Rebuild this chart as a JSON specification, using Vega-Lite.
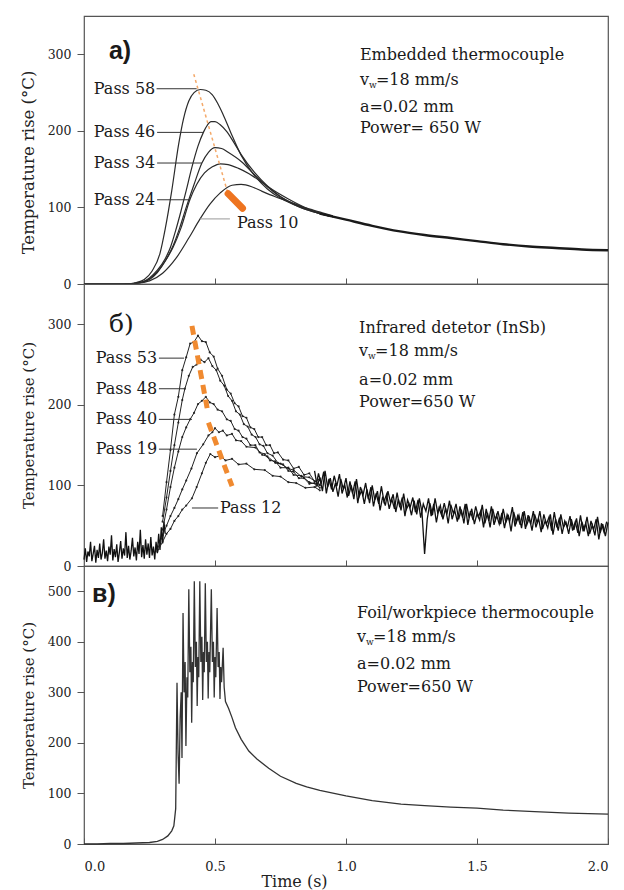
{
"$schema":"https://vega.github.io/schema/vega-lite/v6.json",
"padding":{"left":19,"top":15,"right":16,"bottom":0},
"background":"white",
"spacing":0,
"bounds":"flush",
"config":{"font":"DejaVu Serif","view":{"stroke":"#555","strokeWidth":1.2},
 "axis":{"labelFont":"DejaVu Serif","titleFont":"DejaVu Serif","labelFontSize":12.5,"titleFontSize":16.5,"titleFontWeight":"normal","labelColor":"#222","titleColor":"#222","tickColor":"#555","grid":false,"domain":false},
 "text":{"font":"DejaVu Serif","color":"#1a1a1a"}},
"datasets":{
"a_curves":[
{"pass":"58","t":0,"T":0},{"pass":"58","t":0.15,"T":0},{"pass":"58","t":0.2,"T":2},{"pass":"58","t":0.23,"T":6},{"pass":"58","t":0.26,"T":17},{"pass":"58","t":0.29,"T":40},{"pass":"58","t":0.31,"T":72},{"pass":"58","t":0.335,"T":122},{"pass":"58","t":0.361,"T":182},{"pass":"58","t":0.38,"T":216},{"pass":"58","t":0.4,"T":239},{"pass":"58","t":0.42,"T":250},{"pass":"58","t":0.444,"T":254},{"pass":"58","t":0.465,"T":253},{"pass":"58","t":0.49,"T":247},{"pass":"58","t":0.51,"T":236},{"pass":"58","t":0.53,"T":222},{"pass":"58","t":0.56,"T":198},{"pass":"58","t":0.6,"T":168},{"pass":"58","t":0.65,"T":142},{"pass":"58","t":0.7,"T":124},{"pass":"58","t":0.75,"T":112},{"pass":"58","t":0.8,"T":104},{"pass":"58","t":0.85,"T":97},{"pass":"58","t":0.9,"T":92},{"pass":"58","t":0.95,"T":88},
{"pass":"46","t":0,"T":0},{"pass":"46","t":0.15,"T":0},{"pass":"46","t":0.2,"T":1},{"pass":"46","t":0.25,"T":8},{"pass":"46","t":0.28,"T":18},{"pass":"46","t":0.31,"T":33},{"pass":"46","t":0.33,"T":48},{"pass":"46","t":0.35,"T":70},{"pass":"46","t":0.37,"T":95},{"pass":"46","t":0.39,"T":122},{"pass":"46","t":0.41,"T":150},{"pass":"46","t":0.435,"T":180},{"pass":"46","t":0.457,"T":199},{"pass":"46","t":0.47,"T":207},{"pass":"46","t":0.485,"T":212},{"pass":"46","t":0.5,"T":212},{"pass":"46","t":0.52,"T":208},{"pass":"46","t":0.545,"T":199},{"pass":"46","t":0.57,"T":186},{"pass":"46","t":0.6,"T":169},{"pass":"46","t":0.65,"T":146},{"pass":"46","t":0.7,"T":128},{"pass":"46","t":0.75,"T":114},{"pass":"46","t":0.8,"T":105},{"pass":"46","t":0.85,"T":98},{"pass":"46","t":0.9,"T":92},{"pass":"46","t":0.95,"T":88},
{"pass":"34","t":0,"T":0},{"pass":"34","t":0.15,"T":0},{"pass":"34","t":0.2,"T":1},{"pass":"34","t":0.25,"T":7},{"pass":"34","t":0.28,"T":16},{"pass":"34","t":0.31,"T":30},{"pass":"34","t":0.34,"T":50},{"pass":"34","t":0.365,"T":73},{"pass":"34","t":0.39,"T":100},{"pass":"34","t":0.42,"T":130},{"pass":"34","t":0.45,"T":158},{"pass":"34","t":0.475,"T":172},{"pass":"34","t":0.5,"T":178},{"pass":"34","t":0.525,"T":177},{"pass":"34","t":0.55,"T":172},{"pass":"34","t":0.6,"T":160},{"pass":"34","t":0.65,"T":143},{"pass":"34","t":0.7,"T":127},{"pass":"34","t":0.75,"T":114},{"pass":"34","t":0.8,"T":104},{"pass":"34","t":0.85,"T":97},{"pass":"34","t":0.9,"T":92},{"pass":"34","t":0.95,"T":88},
{"pass":"24","t":0,"T":0},{"pass":"24","t":0.15,"T":0},{"pass":"24","t":0.2,"T":1},{"pass":"24","t":0.25,"T":6},{"pass":"24","t":0.28,"T":15},{"pass":"24","t":0.31,"T":30},{"pass":"24","t":0.34,"T":48},{"pass":"24","t":0.37,"T":73},{"pass":"24","t":0.405,"T":111},{"pass":"24","t":0.43,"T":130},{"pass":"24","t":0.46,"T":145},{"pass":"24","t":0.49,"T":153},{"pass":"24","t":0.52,"T":157},{"pass":"24","t":0.55,"T":156},{"pass":"24","t":0.59,"T":151},{"pass":"24","t":0.63,"T":144},{"pass":"24","t":0.67,"T":135},{"pass":"24","t":0.72,"T":123},{"pass":"24","t":0.78,"T":111},{"pass":"24","t":0.85,"T":99},{"pass":"24","t":0.9,"T":93},{"pass":"24","t":0.95,"T":88},
{"pass":"10","t":0,"T":0},{"pass":"10","t":0.15,"T":0},{"pass":"10","t":0.2,"T":1},{"pass":"10","t":0.25,"T":4},{"pass":"10","t":0.3,"T":14},{"pass":"10","t":0.35,"T":33},{"pass":"10","t":0.4,"T":60},{"pass":"10","t":0.443,"T":85},{"pass":"10","t":0.48,"T":104},{"pass":"10","t":0.52,"T":119},{"pass":"10","t":0.565,"T":129},{"pass":"10","t":0.6,"T":130},{"pass":"10","t":0.64,"T":127},{"pass":"10","t":0.68,"T":121},{"pass":"10","t":0.73,"T":114},{"pass":"10","t":0.78,"T":108},{"pass":"10","t":0.85,"T":99},{"pass":"10","t":0.91,"T":93},{"pass":"10","t":0.95,"T":89}
],
"a_tail":[{"t":0.9,"T":92},{"t":0.95,"T":88},{"t":1.0,"T":84},{"t":1.1,"T":76},{"t":1.2,"T":69},{"t":1.3,"T":64},{"t":1.4,"T":60},{"t":1.5,"T":56},{"t":1.6,"T":52},{"t":1.7,"T":49},{"t":1.8,"T":47},{"t":1.9,"T":45},{"t":2.0,"T":44}],
"a_or1":[{"t":0.419,"T":274},{"t":0.552,"T":115}],
"a_or2":[{"t":0.55,"T":118},{"t":0.605,"T":99}],
"a_lead":[{"t":0.277,"t2":0.43,"T":255},{"t":0.279,"t2":0.457,"T":198},{"t":0.279,"t2":0.45,"T":158},{"t":0.279,"t2":0.405,"T":110}],
"a_lab":[{"t":0.272,"T":255,"text":"Pass 58"},{"t":0.272,"T":198,"text":"Pass 46"},{"t":0.272,"T":158,"text":"Pass 34"},{"t":0.272,"T":110,"text":"Pass 24"}],
"b_curves":[
{"pass":"53","t":0.3,"T":62},{"pass":"53","t":0.315,"T":104},{"pass":"53","t":0.33,"T":144},{"pass":"53","t":0.345,"T":188},{"pass":"53","t":0.36,"T":210},{"pass":"53","t":0.375,"T":243},{"pass":"53","t":0.39,"T":259},{"pass":"53","t":0.405,"T":276},{"pass":"53","t":0.42,"T":278},{"pass":"53","t":0.435,"T":286},{"pass":"53","t":0.45,"T":279},{"pass":"53","t":0.465,"T":278},{"pass":"53","t":0.48,"T":265},{"pass":"53","t":0.495,"T":260},{"pass":"53","t":0.51,"T":245},{"pass":"53","t":0.527,"T":236},{"pass":"53","t":0.545,"T":219},{"pass":"53","t":0.56,"T":214},{"pass":"53","t":0.575,"T":202},{"pass":"53","t":0.59,"T":198},{"pass":"53","t":0.605,"T":186},{"pass":"53","t":0.62,"T":184},{"pass":"53","t":0.635,"T":172},{"pass":"53","t":0.65,"T":170},{"pass":"53","t":0.665,"T":160},{"pass":"53","t":0.68,"T":160},{"pass":"53","t":0.695,"T":150},{"pass":"53","t":0.71,"T":150},{"pass":"53","t":0.725,"T":140},{"pass":"53","t":0.74,"T":141},{"pass":"53","t":0.76,"T":132},{"pass":"53","t":0.78,"T":131},{"pass":"53","t":0.8,"T":121},{"pass":"53","t":0.82,"T":123},{"pass":"53","t":0.84,"T":113},{"pass":"53","t":0.86,"T":115},{"pass":"53","t":0.88,"T":105},{"pass":"53","t":0.9,"T":108},
{"pass":"48","t":0.3,"T":55},{"pass":"48","t":0.315,"T":85},{"pass":"48","t":0.33,"T":118},{"pass":"48","t":0.345,"T":150},{"pass":"48","t":0.36,"T":178},{"pass":"48","t":0.375,"T":206},{"pass":"48","t":0.385,"T":220},{"pass":"48","t":0.4,"T":236},{"pass":"48","t":0.415,"T":247},{"pass":"48","t":0.43,"T":250},{"pass":"48","t":0.445,"T":256},{"pass":"48","t":0.46,"T":253},{"pass":"48","t":0.475,"T":258},{"pass":"48","t":0.49,"T":248},{"pass":"48","t":0.505,"T":243},{"pass":"48","t":0.52,"T":230},{"pass":"48","t":0.535,"T":224},{"pass":"48","t":0.55,"T":211},{"pass":"48","t":0.565,"T":205},{"pass":"48","t":0.58,"T":192},{"pass":"48","t":0.595,"T":188},{"pass":"48","t":0.61,"T":176},{"pass":"48","t":0.625,"T":173},{"pass":"48","t":0.64,"T":163},{"pass":"48","t":0.655,"T":160},{"pass":"48","t":0.67,"T":151},{"pass":"48","t":0.685,"T":149},{"pass":"48","t":0.7,"T":140},{"pass":"48","t":0.72,"T":137},{"pass":"48","t":0.74,"T":128},{"pass":"48","t":0.76,"T":126},{"pass":"48","t":0.78,"T":118},{"pass":"48","t":0.8,"T":117},{"pass":"48","t":0.82,"T":109},{"pass":"48","t":0.84,"T":109},{"pass":"48","t":0.86,"T":102},{"pass":"48","t":0.88,"T":103},{"pass":"48","t":0.9,"T":97},
{"pass":"40","t":0.3,"T":45},{"pass":"40","t":0.315,"T":70},{"pass":"40","t":0.33,"T":98},{"pass":"40","t":0.345,"T":122},{"pass":"40","t":0.36,"T":142},{"pass":"40","t":0.375,"T":160},{"pass":"40","t":0.39,"T":172},{"pass":"40","t":0.405,"T":182},{"pass":"40","t":0.42,"T":190},{"pass":"40","t":0.435,"T":201},{"pass":"40","t":0.45,"T":205},{"pass":"40","t":0.465,"T":210},{"pass":"40","t":0.48,"T":203},{"pass":"40","t":0.495,"T":201},{"pass":"40","t":0.51,"T":194},{"pass":"40","t":0.527,"T":192},{"pass":"40","t":0.545,"T":182},{"pass":"40","t":0.56,"T":180},{"pass":"40","t":0.575,"T":170},{"pass":"40","t":0.59,"T":168},{"pass":"40","t":0.605,"T":160},{"pass":"40","t":0.62,"T":158},{"pass":"40","t":0.635,"T":150},{"pass":"40","t":0.654,"T":150},{"pass":"40","t":0.67,"T":141},{"pass":"40","t":0.69,"T":139},{"pass":"40","t":0.71,"T":131},{"pass":"40","t":0.73,"T":130},{"pass":"40","t":0.75,"T":122},{"pass":"40","t":0.78,"T":122},{"pass":"40","t":0.8,"T":113},{"pass":"40","t":0.83,"T":112},{"pass":"40","t":0.86,"T":104},{"pass":"40","t":0.9,"T":100},
{"pass":"19","t":0.28,"T":20},{"pass":"19","t":0.3,"T":38},{"pass":"19","t":0.315,"T":50},{"pass":"19","t":0.33,"T":62},{"pass":"19","t":0.345,"T":72},{"pass":"19","t":0.36,"T":83},{"pass":"19","t":0.375,"T":95},{"pass":"19","t":0.39,"T":106},{"pass":"19","t":0.41,"T":121},{"pass":"19","t":0.431,"T":140},{"pass":"19","t":0.455,"T":151},{"pass":"19","t":0.475,"T":162},{"pass":"19","t":0.49,"T":166},{"pass":"19","t":0.5,"T":171},{"pass":"19","t":0.515,"T":166},{"pass":"19","t":0.53,"T":168},{"pass":"19","t":0.545,"T":162},{"pass":"19","t":0.565,"T":164},{"pass":"19","t":0.58,"T":156},{"pass":"19","t":0.6,"T":155},{"pass":"19","t":0.62,"T":148},{"pass":"19","t":0.654,"T":147},{"pass":"19","t":0.68,"T":138},{"pass":"19","t":0.7,"T":136},{"pass":"19","t":0.73,"T":128},{"pass":"19","t":0.75,"T":127},{"pass":"19","t":0.78,"T":121},{"pass":"19","t":0.8,"T":119},{"pass":"19","t":0.83,"T":111},{"pass":"19","t":0.86,"T":110},{"pass":"19","t":0.9,"T":101},
{"pass":"12","t":0.28,"T":18},{"pass":"12","t":0.3,"T":30},{"pass":"12","t":0.315,"T":40},{"pass":"12","t":0.33,"T":46},{"pass":"12","t":0.345,"T":56},{"pass":"12","t":0.36,"T":62},{"pass":"12","t":0.375,"T":70},{"pass":"12","t":0.39,"T":75},{"pass":"12","t":0.412,"T":84},{"pass":"12","t":0.43,"T":98},{"pass":"12","t":0.45,"T":115},{"pass":"12","t":0.465,"T":128},{"pass":"12","t":0.482,"T":139},{"pass":"12","t":0.5,"T":135},{"pass":"12","t":0.52,"T":137},{"pass":"12","t":0.54,"T":131},{"pass":"12","t":0.565,"T":133},{"pass":"12","t":0.59,"T":126},{"pass":"12","t":0.62,"T":127},{"pass":"12","t":0.65,"T":120},{"pass":"12","t":0.69,"T":119},{"pass":"12","t":0.72,"T":112},{"pass":"12","t":0.75,"T":111},{"pass":"12","t":0.78,"T":104},{"pass":"12","t":0.81,"T":103},{"pass":"12","t":0.845,"T":97},{"pass":"12","t":0.88,"T":98},{"pass":"12","t":0.9,"T":94}
],
"b_noise":[
{"seg":"base","t":0.0,"T":8},{"seg":"base","t":0.005,"T":22},{"seg":"base","t":0.01,"T":5},{"seg":"base","t":0.015,"T":18},{"seg":"base","t":0.02,"T":12},{"seg":"base","t":0.025,"T":30},{"seg":"base","t":0.03,"T":6},{"seg":"base","t":0.035,"T":15},{"seg":"base","t":0.04,"T":25},{"seg":"base","t":0.045,"T":4},{"seg":"base","t":0.05,"T":20},{"seg":"base","t":0.055,"T":10},{"seg":"base","t":0.06,"T":28},{"seg":"base","t":0.065,"T":8},{"seg":"base","t":0.07,"T":16},{"seg":"base","t":0.075,"T":33},{"seg":"base","t":0.08,"T":9},{"seg":"base","t":0.085,"T":19},{"seg":"base","t":0.09,"T":6},{"seg":"base","t":0.095,"T":24},{"seg":"base","t":0.1,"T":14},{"seg":"base","t":0.105,"T":38},{"seg":"base","t":0.11,"T":7},{"seg":"base","t":0.115,"T":21},{"seg":"base","t":0.12,"T":11},{"seg":"base","t":0.125,"T":27},{"seg":"base","t":0.13,"T":5},{"seg":"base","t":0.135,"T":17},{"seg":"base","t":0.14,"T":31},{"seg":"base","t":0.145,"T":9},{"seg":"base","t":0.15,"T":22},{"seg":"base","t":0.155,"T":13},{"seg":"base","t":0.16,"T":42},{"seg":"base","t":0.165,"T":10},{"seg":"base","t":0.17,"T":25},{"seg":"base","t":0.175,"T":8},{"seg":"base","t":0.18,"T":19},{"seg":"base","t":0.185,"T":35},{"seg":"base","t":0.19,"T":12},{"seg":"base","t":0.195,"T":23},{"seg":"base","t":0.2,"T":7},{"seg":"base","t":0.205,"T":30},{"seg":"base","t":0.21,"T":15},{"seg":"base","t":0.215,"T":45},{"seg":"base","t":0.22,"T":11},{"seg":"base","t":0.225,"T":26},{"seg":"base","t":0.23,"T":9},{"seg":"base","t":0.235,"T":33},{"seg":"base","t":0.24,"T":14},{"seg":"base","t":0.245,"T":28},{"seg":"base","t":0.25,"T":10},{"seg":"base","t":0.255,"T":36},{"seg":"base","t":0.26,"T":13},{"seg":"base","t":0.265,"T":24},{"seg":"base","t":0.27,"T":8},{"seg":"base","t":0.275,"T":30},{"seg":"base","t":0.28,"T":16},{"seg":"base","t":0.285,"T":40},{"seg":"base","t":0.29,"T":20},{"seg":"base","t":0.295,"T":48},{"seg":"base","t":0.3,"T":28},{"seg":"base","t":0.305,"T":55},{"seg":"base","t":0.31,"T":40},
{"seg":"tail","t":0.88,"T":118},{"seg":"tail","t":0.89,"T":99},{"seg":"tail","t":0.9,"T":110},{"seg":"tail","t":0.91,"T":93},{"seg":"tail","t":0.92,"T":118},{"seg":"tail","t":0.93,"T":98},{"seg":"tail","t":0.94,"T":109},{"seg":"tail","t":0.95,"T":92},{"seg":"tail","t":0.96,"T":103},{"seg":"tail","t":0.97,"T":86},{"seg":"tail","t":0.98,"T":108},{"seg":"tail","t":0.99,"T":95},{"seg":"tail","t":1.0,"T":109},{"seg":"tail","t":1.01,"T":87},{"seg":"tail","t":1.02,"T":100},{"seg":"tail","t":1.03,"T":83},{"seg":"tail","t":1.04,"T":108},{"seg":"tail","t":1.05,"T":86},{"seg":"tail","t":1.06,"T":94},{"seg":"tail","t":1.07,"T":77},
{"seg":"tail","t":1.08,"T":95},{"seg":"tail","t":1.09,"T":78},{"seg":"tail","t":1.1,"T":100},{"seg":"tail","t":1.11,"T":82},{"seg":"tail","t":1.12,"T":93},{"seg":"tail","t":1.13,"T":69},{"seg":"tail","t":1.14,"T":86},{"seg":"tail","t":1.15,"T":75},{"seg":"tail","t":1.16,"T":93},{"seg":"tail","t":1.17,"T":79},{"seg":"tail","t":1.18,"T":89},{"seg":"tail","t":1.19,"T":67},{"seg":"tail","t":1.2,"T":83},{"seg":"tail","t":1.21,"T":69},{"seg":"tail","t":1.22,"T":90},{"seg":"tail","t":1.23,"T":70},{"seg":"tail","t":1.24,"T":77},{"seg":"tail","t":1.25,"T":63},{"seg":"tail","t":1.26,"T":81},{"seg":"tail","t":1.27,"T":64},
{"seg":"tail","t":1.28,"T":84},{"seg":"tail","t":1.29,"T":67},{"seg":"tail","t":1.3,"T":15},{"seg":"tail","t":1.31,"T":58},{"seg":"tail","t":1.32,"T":78},{"seg":"tail","t":1.33,"T":63},{"seg":"tail","t":1.34,"T":84},{"seg":"tail","t":1.35,"T":66},{"seg":"tail","t":1.36,"T":75},{"seg":"tail","t":1.37,"T":58},{"seg":"tail","t":1.38,"T":72},{"seg":"tail","t":1.39,"T":53},{"seg":"tail","t":1.4,"T":76},{"seg":"tail","t":1.41,"T":65},{"seg":"tail","t":1.42,"T":77},{"seg":"tail","t":1.43,"T":58},{"seg":"tail","t":1.44,"T":70},{"seg":"tail","t":1.45,"T":53},{"seg":"tail","t":1.46,"T":77},{"seg":"tail","t":1.47,"T":60},
{"seg":"tail","t":1.48,"T":71},{"seg":"tail","t":1.49,"T":52},{"seg":"tail","t":1.5,"T":65},{"seg":"tail","t":1.51,"T":57},{"seg":"tail","t":1.52,"T":76},{"seg":"tail","t":1.53,"T":53},{"seg":"tail","t":1.54,"T":66},{"seg":"tail","t":1.55,"T":48},{"seg":"tail","t":1.56,"T":71},{"seg":"tail","t":1.57,"T":57},{"seg":"tail","t":1.58,"T":68},{"seg":"tail","t":1.59,"T":52},{"seg":"tail","t":1.6,"T":71},{"seg":"tail","t":1.61,"T":54},{"seg":"tail","t":1.62,"T":62},{"seg":"tail","t":1.63,"T":43},{"seg":"tail","t":1.64,"T":67},{"seg":"tail","t":1.65,"T":54},{"seg":"tail","t":1.66,"T":63},{"seg":"tail","t":1.67,"T":47},
{"seg":"tail","t":1.68,"T":68},{"seg":"tail","t":1.69,"T":51},{"seg":"tail","t":1.7,"T":60},{"seg":"tail","t":1.71,"T":44},{"seg":"tail","t":1.72,"T":64},{"seg":"tail","t":1.73,"T":53},{"seg":"tail","t":1.74,"T":68},{"seg":"tail","t":1.75,"T":46},{"seg":"tail","t":1.76,"T":56},{"seg":"tail","t":1.77,"T":47},{"seg":"tail","t":1.78,"T":64},{"seg":"tail","t":1.79,"T":39},{"seg":"tail","t":1.8,"T":58},{"seg":"tail","t":1.81,"T":44},{"seg":"tail","t":1.82,"T":64},{"seg":"tail","t":1.83,"T":48},{"seg":"tail","t":1.84,"T":54},{"seg":"tail","t":1.85,"T":40},{"seg":"tail","t":1.86,"T":58},{"seg":"tail","t":1.87,"T":45},
{"seg":"tail","t":1.88,"T":59},{"seg":"tail","t":1.89,"T":37},{"seg":"tail","t":1.9,"T":55},{"seg":"tail","t":1.91,"T":45},{"seg":"tail","t":1.92,"T":61},{"seg":"tail","t":1.93,"T":40},{"seg":"tail","t":1.94,"T":51},{"seg":"tail","t":1.95,"T":38},{"seg":"tail","t":1.96,"T":61},{"seg":"tail","t":1.97,"T":41},{"seg":"tail","t":1.98,"T":52},{"seg":"tail","t":1.99,"T":37},{"seg":"tail","t":2.0,"T":54},
{"seg":"tail2","t":0.885,"T":98},{"seg":"tail2","t":0.895,"T":115},{"seg":"tail2","t":0.905,"T":102},{"seg":"tail2","t":0.915,"T":117},{"seg":"tail2","t":0.925,"T":90},{"seg":"tail2","t":0.935,"T":108},{"seg":"tail2","t":0.945,"T":95},{"seg":"tail2","t":0.955,"T":112},{"seg":"tail2","t":0.965,"T":99},{"seg":"tail2","t":0.975,"T":114},{"seg":"tail2","t":0.985,"T":90},{"seg":"tail2","t":0.995,"T":101},{"seg":"tail2","t":1.005,"T":85},{"seg":"tail2","t":1.015,"T":105},{"seg":"tail2","t":1.025,"T":90},{"seg":"tail2","t":1.035,"T":105},{"seg":"tail2","t":1.045,"T":78},{"seg":"tail2","t":1.055,"T":98},{"seg":"tail2","t":1.065,"T":88},{"seg":"tail2","t":1.075,"T":103},
{"seg":"tail2","t":1.085,"T":83},{"seg":"tail2","t":1.095,"T":98},{"seg":"tail2","t":1.105,"T":74},{"seg":"tail2","t":1.115,"T":90},{"seg":"tail2","t":1.125,"T":77},{"seg":"tail2","t":1.135,"T":99},{"seg":"tail2","t":1.145,"T":80},{"seg":"tail2","t":1.155,"T":89},{"seg":"tail2","t":1.165,"T":71},{"seg":"tail2","t":1.175,"T":83},{"seg":"tail2","t":1.185,"T":71},{"seg":"tail2","t":1.195,"T":91},{"seg":"tail2","t":1.205,"T":73},{"seg":"tail2","t":1.215,"T":85},{"seg":"tail2","t":1.225,"T":62},{"seg":"tail2","t":1.235,"T":82},{"seg":"tail2","t":1.245,"T":73},{"seg":"tail2","t":1.255,"T":85},{"seg":"tail2","t":1.265,"T":67},{"seg":"tail2","t":1.275,"T":82},
{"seg":"tail2","t":1.285,"T":60},{"seg":"tail2","t":1.295,"T":77},{"seg":"tail2","t":1.305,"T":68},{"seg":"tail2","t":1.315,"T":84},{"seg":"tail2","t":1.325,"T":62},{"seg":"tail2","t":1.335,"T":77},{"seg":"tail2","t":1.345,"T":54},{"seg":"tail2","t":1.355,"T":72},{"seg":"tail2","t":1.365,"T":63},{"seg":"tail2","t":1.375,"T":78},{"seg":"tail2","t":1.385,"T":64},{"seg":"tail2","t":1.395,"T":81},{"seg":"tail2","t":1.405,"T":58},{"seg":"tail2","t":1.415,"T":69},{"seg":"tail2","t":1.425,"T":55},{"seg":"tail2","t":1.435,"T":74},{"seg":"tail2","t":1.445,"T":60},{"seg":"tail2","t":1.455,"T":77},{"seg":"tail2","t":1.465,"T":51},{"seg":"tail2","t":1.475,"T":68},
{"seg":"tail2","t":1.485,"T":57},{"seg":"tail2","t":1.495,"T":74},{"seg":"tail2","t":1.505,"T":61},{"seg":"tail2","t":1.515,"T":69},{"seg":"tail2","t":1.525,"T":48},{"seg":"tail2","t":1.535,"T":71},{"seg":"tail2","t":1.545,"T":56},{"seg":"tail2","t":1.555,"T":74},{"seg":"tail2","t":1.565,"T":51},{"seg":"tail2","t":1.575,"T":63},{"seg":"tail2","t":1.585,"T":52},{"seg":"tail2","t":1.595,"T":66},{"seg":"tail2","t":1.605,"T":47},{"seg":"tail2","t":1.615,"T":64},{"seg":"tail2","t":1.625,"T":56},{"seg":"tail2","t":1.635,"T":73},{"seg":"tail2","t":1.645,"T":49},{"seg":"tail2","t":1.655,"T":62},{"seg":"tail2","t":1.665,"T":51},{"seg":"tail2","t":1.675,"T":67},
{"seg":"tail2","t":1.685,"T":46},{"seg":"tail2","t":1.695,"T":63},{"seg":"tail2","t":1.705,"T":52},{"seg":"tail2","t":1.715,"T":68},{"seg":"tail2","t":1.725,"T":48},{"seg":"tail2","t":1.735,"T":59},{"seg":"tail2","t":1.745,"T":42},{"seg":"tail2","t":1.755,"T":64},{"seg":"tail2","t":1.765,"T":52},{"seg":"tail2","t":1.775,"T":61},{"seg":"tail2","t":1.785,"T":44},{"seg":"tail2","t":1.795,"T":67},{"seg":"tail2","t":1.805,"T":48},{"seg":"tail2","t":1.815,"T":60},{"seg":"tail2","t":1.825,"T":40},{"seg":"tail2","t":1.835,"T":56},{"seg":"tail2","t":1.845,"T":48},{"seg":"tail2","t":1.855,"T":62},{"seg":"tail2","t":1.865,"T":44},{"seg":"tail2","t":1.875,"T":55},
{"seg":"tail2","t":1.885,"T":41},{"seg":"tail2","t":1.895,"T":63},{"seg":"tail2","t":1.905,"T":43},{"seg":"tail2","t":1.915,"T":53},{"seg":"tail2","t":1.925,"T":37},{"seg":"tail2","t":1.935,"T":56},{"seg":"tail2","t":1.945,"T":45},{"seg":"tail2","t":1.955,"T":58},{"seg":"tail2","t":1.965,"T":33},{"seg":"tail2","t":1.975,"T":53},{"seg":"tail2","t":1.985,"T":42},{"seg":"tail2","t":1.995,"T":55}
],
"b_or":[{"seg":"u","t":0.412,"T":298},{"seg":"u","t":0.47,"T":196},{"seg":"l","t":0.475,"T":178},{"seg":"l","t":0.565,"T":99}],
"b_lead":[{"t":0.286,"t2":0.382,"T":258},{"t":0.286,"t2":0.386,"T":220},{"t":0.286,"t2":0.412,"T":182},{"t":0.286,"t2":0.431,"T":145},{"t":0.412,"t2":0.512,"T":72}],
"b_lab":[{"t":0.279,"T":258,"text":"Pass 53"},{"t":0.279,"T":220,"text":"Pass 48"},{"t":0.279,"T":182,"text":"Pass 40"},{"t":0.279,"T":145,"text":"Pass 19"}],
"c_curve":[
{"t":0,"T":0},{"t":0.05,"T":0},{"t":0.1,"T":1},{"t":0.15,"T":1},{"t":0.2,"T":2},{"t":0.25,"T":3},{"t":0.28,"T":5},{"t":0.3,"T":9},{"t":0.32,"T":16},{"t":0.335,"T":26},{"t":0.343,"T":36},{"t":0.35,"T":70},{"t":0.355,"T":319},{"t":0.359,"T":180},{"t":0.363,"T":119},{"t":0.367,"T":250},{"t":0.371,"T":300},{"t":0.374,"T":170},{"t":0.378,"T":457},{"t":0.382,"T":300},{"t":0.386,"T":360},{"t":0.389,"T":194},{"t":0.393,"T":330},{"t":0.396,"T":290},{"t":0.4,"T":504},{"t":0.404,"T":340},{"t":0.408,"T":390},{"t":0.411,"T":240},{"t":0.414,"T":360},{"t":0.417,"T":320},{"t":0.421,"T":520},{"t":0.425,"T":350},{"t":0.429,"T":400},{"t":0.432,"T":273},{"t":0.435,"T":370},{"t":0.438,"T":330},{"t":0.442,"T":520},{"t":0.446,"T":360},{"t":0.45,"T":410},{"t":0.453,"T":285},{"t":0.456,"T":380},{"t":0.459,"T":340},{"t":0.463,"T":516},{"t":0.467,"T":360},{"t":0.471,"T":400},{"t":0.474,"T":288},{"t":0.477,"T":380},{"t":0.48,"T":340},{"t":0.486,"T":504},{"t":0.49,"T":360},{"t":0.494,"T":400},{"t":0.497,"T":290},{"t":0.5,"T":370},{"t":0.503,"T":330},{"t":0.508,"T":467},{"t":0.512,"T":350},{"t":0.516,"T":380},{"t":0.519,"T":287},{"t":0.522,"T":350},{"t":0.525,"T":320},{"t":0.531,"T":388},{"t":0.535,"T":310},{"t":0.54,"T":282},{"t":0.552,"T":268},{"t":0.565,"T":250},{"t":0.578,"T":230},{"t":0.6,"T":207},{"t":0.629,"T":184},{"t":0.66,"T":168},{"t":0.705,"T":150},{"t":0.75,"T":134},{"t":0.81,"T":120},{"t":0.85,"T":113},{"t":0.9,"T":106},{"t":1.0,"T":95},{"t":1.1,"T":86},{"t":1.21,"T":79},{"t":1.3,"T":76},{"t":1.4,"T":73},{"t":1.5,"T":71},{"t":1.6,"T":67},{"t":1.72,"T":64},{"t":1.85,"T":61},{"t":2.0,"T":59}
]
},
"vconcat":[
{
"width":524,"height":268,
"encoding":{
 "x":{"field":"t","type":"quantitative","scale":{"domain":[0,2],"nice":false,"zero":false},"axis":{"values":[0.5,1,1.5],"labels":false,"tickSize":-6,"title":null}},
 "y":{"field":"T","type":"quantitative","scale":{"domain":[0,350],"nice":false},"axis":{"values":[0,100,200,300],"tickSize":7,"labelPadding":6,"title":"Temperature rise (°C)","titleFontSize":16.5,"titleX":-48,"titleY":146}}
},
"layer":[
 {"data":{"name":"a_curves"},"mark":{"type":"line","interpolate":"monotone","color":"#2a2a2a","strokeWidth":1.2},"encoding":{"detail":{"field":"pass"}}},
 {"data":{"name":"a_tail"},"mark":{"type":"line","interpolate":"monotone","color":"#1a1a1a","strokeWidth":2.4}},
 {"data":{"name":"a_or1"},"mark":{"type":"line","color":"#f4a96a","strokeWidth":1.5,"strokeDash":[3,3]}},
 {"data":{"name":"a_or2"},"mark":{"type":"line","color":"#ee7420","strokeWidth":7,"strokeCap":"round"}},
 {"data":{"name":"a_lead"},"mark":{"type":"rule","color":"#333","strokeWidth":1},"encoding":{"x2":{"field":"t2"}}},
 {"data":{"values":[{"t":0.443,"t2":0.557,"T":85}]},"mark":{"type":"rule","color":"#999","strokeWidth":1},"encoding":{"x2":{"field":"t2"}}},
 {"data":{"name":"a_lab"},"mark":{"type":"text","align":"right","baseline":"middle","fontSize":16},"encoding":{"text":{"field":"text"}}},
 {"data":{"values":[{"t":0.584,"T":80,"text":"Pass 10"}]},"mark":{"type":"text","align":"left","baseline":"middle","fontSize":16},"encoding":{"text":{"field":"text"}}},
 {"data":{"values":[{"t":1.053,"T":299,"text":"Embedded thermocouple"},{"t":1.053,"T":266,"text":"v"},{"t":1.053,"T":231,"text":"a=0.02 mm"},{"t":1.053,"T":204,"text":"Power= 650 W"}]},"mark":{"type":"text","align":"left","baseline":"middle","fontSize":16},"encoding":{"text":{"field":"text"}}},
 {"data":{"values":[{"t":1.053,"T":266}]},"mark":{"type":"text","text":"w","align":"left","baseline":"middle","fontSize":9,"dx":9,"dy":5}},
 {"data":{"values":[{"t":1.053,"T":266}]},"mark":{"type":"text","text":"=18 mm/s","align":"left","baseline":"middle","fontSize":16,"dx":16}},
 {"data":{"values":[{"t":0.095,"T":304}]},"mark":{"type":"text","text":"a)","align":"left","baseline":"middle","fontSize":25,"font":"Liberation Sans","fontWeight":"bold"}}
]
},
{
"width":524,"height":282,
"encoding":{
 "x":{"field":"t","type":"quantitative","scale":{"domain":[0,2],"nice":false,"zero":false},"axis":{"values":[0.5,1,1.5],"labels":false,"tickSize":-6,"title":null}},
 "y":{"field":"T","type":"quantitative","scale":{"domain":[0,350],"nice":false},"axis":{"values":[0,100,200,300],"tickSize":7,"labelPadding":6,"title":"Temperature rise (°C)","titleFontSize":15,"titleX":-48,"titleY":141}}
},
"layer":[
 {"data":{"name":"b_noise"},"mark":{"type":"line","color":"#111","strokeWidth":1.3},"encoding":{"detail":{"field":"seg"}}},
 {"data":{"name":"b_curves"},"mark":{"type":"line","color":"#222","strokeWidth":1},"encoding":{"detail":{"field":"pass"}}},
 {"data":{"name":"b_curves"},"mark":{"type":"point","filled":true,"color":"#111","size":5,"opacity":0.8}},
 {"data":{"name":"b_or"},"mark":{"type":"line","color":"#f08a30","strokeWidth":5,"strokeDash":[9,6]},"encoding":{"detail":{"field":"seg"}}},
 {"data":{"name":"b_lead"},"mark":{"type":"rule","color":"#333","strokeWidth":1},"encoding":{"x2":{"field":"t2"}}},
 {"data":{"name":"b_lab"},"mark":{"type":"text","align":"right","baseline":"middle","fontSize":16},"encoding":{"text":{"field":"text"}}},
 {"data":{"values":[{"t":0.519,"T":72,"text":"Pass 12"}]},"mark":{"type":"text","align":"left","baseline":"middle","fontSize":16},"encoding":{"text":{"field":"text"}}},
 {"data":{"values":[{"t":1.05,"T":295,"text":"Infrared detetor (InSb)"},{"t":1.05,"T":267,"text":"v"},{"t":1.05,"T":231,"text":"a=0.02 mm"},{"t":1.05,"T":203,"text":"Power=650 W"}]},"mark":{"type":"text","align":"left","baseline":"middle","fontSize":16},"encoding":{"text":{"field":"text"}}},
 {"data":{"values":[{"t":1.05,"T":267}]},"mark":{"type":"text","text":"w","align":"left","baseline":"middle","fontSize":9,"dx":9,"dy":5}},
 {"data":{"values":[{"t":1.05,"T":267}]},"mark":{"type":"text","text":"=18 mm/s","align":"left","baseline":"middle","fontSize":16,"dx":16}},
 {"data":{"values":[{"t":0.095,"T":300}]},"mark":{"type":"text","text":"б)","align":"left","baseline":"middle","fontSize":25}}
]
},
{
"width":524,"height":278,
"encoding":{
 "x":{"field":"t","type":"quantitative","scale":{"domain":[0,2],"nice":false,"zero":false},"axis":{"values":[0,0.5,1,1.5,2],"format":".1f","labelFontSize":13,"tickSize":-6,"labelPadding":22,"title":"Time (s)","titleFontSize":16,"titleX":210,"titleY":29}},
 "y":{"field":"T","type":"quantitative","scale":{"domain":[0,550],"nice":false},"axis":{"values":[0,100,200,300,400,500],"tickSize":7,"labelPadding":6,"title":"Temperature rise (°C)","titleFontSize":15,"titleX":-48,"titleY":139}}
},
"layer":[
 {"data":{"name":"c_curve"},"mark":{"type":"line","color":"#333","strokeWidth":1.3}},
 {"data":{"values":[{"t":1.042,"T":457,"text":"Foil/workpiece thermocouple"},{"t":1.042,"T":410,"text":"v"},{"t":1.042,"T":356,"text":"a=0.02 mm"},{"t":1.042,"T":311,"text":"Power=650 W"}]},"mark":{"type":"text","align":"left","baseline":"middle","fontSize":16},"encoding":{"text":{"field":"text"}}},
 {"data":{"values":[{"t":1.042,"T":410}]},"mark":{"type":"text","text":"w","align":"left","baseline":"middle","fontSize":9,"dx":9,"dy":5}},
 {"data":{"values":[{"t":1.042,"T":410}]},"mark":{"type":"text","text":"=18 mm/s","align":"left","baseline":"middle","fontSize":16,"dx":16}},
 {"data":{"values":[{"t":0.031,"T":495}]},"mark":{"type":"text","text":"в)","align":"left","baseline":"middle","fontSize":25,"font":"Liberation Sans","fontWeight":"bold"}}
]
}
]
}
